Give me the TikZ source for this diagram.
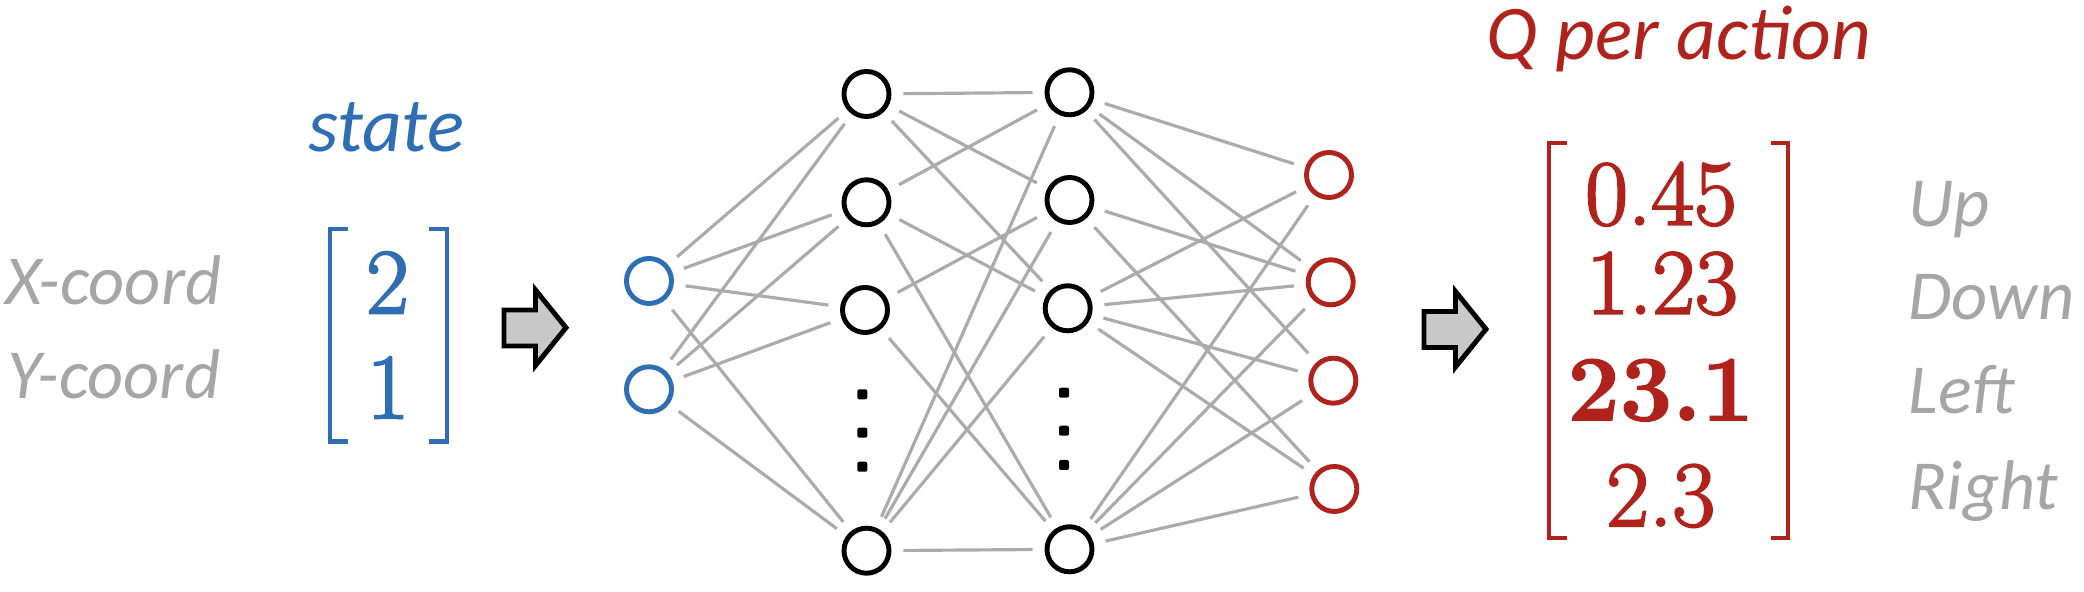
\documentclass[tikz,border=0pt]{standalone}
\usepackage{fontspec}
\newfontfamily\carl{Carlito}
\newfontfamily\numf[FakeBold=2.2, BoldFeatures={FakeBold=1.5}]{Latin Modern Roman}
\definecolor{sblue}{HTML}{2F6EB5}
\definecolor{qred}{HTML}{AF231C}
\definecolor{lgray}{HTML}{A6A6A6}
\definecolor{egray}{HTML}{ABABAB}
\definecolor{afill}{HTML}{C8C8C8}
\begin{document}
\begin{tikzpicture}[x=0.01cm,y=-0.01cm,
  neuron/.style={circle, draw, line width=1.4pt, minimum size=0.45cm, inner sep=0pt},
  inneuron/.style={neuron, draw=sblue},
  hidneuron/.style={neuron, draw=black},
  outneuron/.style={neuron, draw=qred},
  conn/.style={draw=egray, line width=0.9pt, shorten >=0.12cm, shorten <=0.12cm},
  lbl/.style={inner sep=0pt, text=lgray, font=\carl\itshape\fontsize{20pt}{24pt}\selectfont},
  ttl/.style={inner sep=0pt, font=\carl\itshape\fontsize{22pt}{26pt}\selectfont},
  num/.style={inner sep=0pt, font=\numf\fontsize{26.5pt}{30pt}\selectfont},
  brk/.style={line width=1.4pt},
  blockarrow/.style={draw=black, fill=afill, line width=1.4pt},
  dotmark/.style={fill=black, rounded corners=0.02cm}
]
\useasboundingbox (0,0) rectangle (2084,592);

% left labels
\node[lbl, anchor=base east] (xc) at (222,305) {X-coord};
\node[lbl, anchor=base east] (yc) at (221,398.3) {Y-coord};

% state vector
\node[ttl, text=sblue, anchor=base] (state) at (386,151.7) {state};
\draw[brk, draw=sblue] (348,229) -- (330,229) -- (330,441.5) -- (348,441.5);
\draw[brk, draw=sblue] (429,229) -- (447,229) -- (447,441.5) -- (429,441.5);
\node[num, text=sblue, anchor=base] (s2) at (387.5,313.3) {2};
\node[num, text=sblue, anchor=base] (s1) at (388,418.3) {1};

% block arrows
\foreach \dx/\dy in {0/0, 920/1.5}{
  \begin{scope}[shift={(\dx,\dy)}]
    \draw[blockarrow] (504,310) -- (535.5,310) -- (535.5,290) -- (566,327.7)
      -- (535.5,365.5) -- (535.5,346) -- (504,346) -- cycle;
  \end{scope}
}

% neurons
\node[inneuron] (i1) at (649,281) {};
\node[inneuron] (i2) at (649,389.3) {};

\node[hidneuron] (a1) at (866.5,94) {};
\node[hidneuron] (a2) at (866.5,202.3) {};
\node[hidneuron] (a3) at (865,310) {};
\node[hidneuron] (a4) at (866.5,550.7) {};

\node[hidneuron] (b1) at (1069.5,92.3) {};
\node[hidneuron] (b2) at (1069.5,200) {};
\node[hidneuron] (b3) at (1067.7,308.3) {};
\node[hidneuron] (b4) at (1069.5,549.3) {};

\node[outneuron] (o1) at (1329,175) {};
\node[outneuron] (o2) at (1330.7,282.3) {};
\node[outneuron] (o3) at (1333.3,380.7) {};
\node[outneuron] (o4) at (1334.3,489) {};

% ellipsis dots
\foreach \yy in {394.3,432.7,466.7}{
  \fill[dotmark] (857.3,\yy-5) rectangle (867.3,\yy+5);
}
\foreach \yy in {392.7,430.7,465}{
  \fill[dotmark] (1059,\yy-5) rectangle (1069,\yy+5);
}

% connections
\foreach \a/\b in {1/1,1/2,1/3,1/4,2/1,2/2,2/3,2/4}{
  \draw[conn] (i\a) -- (a\b);
}
\foreach \a/\b in {1/1,1/2,1/3,2/1,2/3,2/4,3/2,3/4,4/1,4/2,4/3,4/4}{
  \draw[conn] (a\a) -- (b\b);
}
\foreach \a/\b in {1/1,1/2,1/3,2/2,2/4,3/1,3/2,3/3,3/4,4/1,4/2,4/3,4/4}{
  \draw[conn] (b\a) -- (o\b);
}

% Q vector
\node[ttl, text=qred, anchor=base] (qt) at (1679,60) {Q per action};
\draw[brk, draw=qred] (1567,143) -- (1549,143) -- (1549,538) -- (1567,538);
\draw[brk, draw=qred] (1771,143) -- (1788,143) -- (1788,538) -- (1771,538);
\node[num, text=qred, anchor=base] (q1) at (1661,224.7) {0.45};
\node[num, text=qred, anchor=base] (q2) at (1662,313.7) {1.23};
\node[num, text=qred, anchor=base, font=\numf\bfseries\fontsize{26.5pt}{30pt}\selectfont] (q3) at (1660.7,420.3) {23.1};
\node[num, text=qred, anchor=base] (q4) at (1660.7,526) {2.3};

% action labels
\node[lbl, anchor=base west] (up) at (1908,226.3) {Up};
\node[lbl, anchor=base west] (dn) at (1908,319.3) {Down};
\node[lbl, anchor=base west] (lf) at (1908,413.7) {Left};
\node[lbl, anchor=base west] (rt) at (1908,509.3) {Right};
\end{tikzpicture}
\end{document}
